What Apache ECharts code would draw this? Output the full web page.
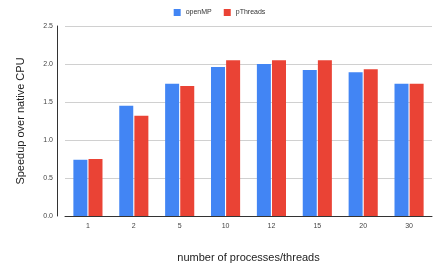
<!DOCTYPE html>
<html>
<head>
<meta charset="utf-8">
<script src="https://cdn.jsdelivr.net/npm/echarts@6/dist/echarts.min.js"></script>
<style>
  html, body { margin: 0; padding: 0; background: #fff; }
  #chart { width: 439px; height: 263px; }
</style>
</head>
<body>
<div id="chart"></div>
<script>
const threads = ['1', '2', '5', '10', '12', '15', '20', '30']
const openMP = [0.74, 1.45, 1.74, 1.96, 2.00, 1.92, 1.89, 1.74]
const pThreads = [0.75, 1.32, 1.71, 2.05, 2.05, 2.05, 1.93, 1.74]

const chart = echarts.init(document.getElementById('chart'))

chart.setOption({
  animation: false,
  textStyle: { fontFamily: 'Arial, "Liberation Sans", sans-serif' },
  legend: {
    top: 4,
    left: 'center',
    itemWidth: 7,
    itemHeight: 7,
    itemGap: 12,
    icon: 'rect',
    textStyle: { fontSize: 7, color: '#333' },
    data: ['openMP', 'pThreads']
  },
  grid: { left: 65, right: 7, top: 26, bottom: 47, containLabel: false, outerBoundsMode: 'none' },
  xAxis: {
    type: 'category',
    data: threads,
    name: 'number of processes/threads',
    nameLocation: 'middle',
    nameGap: 36,
    nameTextStyle: { fontSize: 11, color: '#222' },
    axisLine: { lineStyle: { color: '#333', width: 1 } },
    axisTick: { show: false },
    axisLabel: { fontSize: 7, color: '#444', margin: 7 }
  },
  yAxis: {
    type: 'value',
    min: 0,
    max: 2.5,
    interval: 0.5,
    offset: 8,
    name: 'Speedup over native CPU',
    nameLocation: 'middle',
    nameGap: 31,
    nameTextStyle: { fontSize: 11, color: '#222' },
    axisLine: { show: true, lineStyle: { color: '#333', width: 1 } },
    axisTick: { show: false },
    axisLabel: { fontSize: 7, color: '#444', margin: 4, formatter: v => v.toFixed(1) },
    splitLine: { lineStyle: { color: '#d0d0d0', width: 1 } }
  },
  series: [
    {
      name: 'openMP',
      type: 'bar',
      data: openMP,
      barWidth: 14,
      barGap: '8%',
      itemStyle: { color: '#4285F4' }
    },
    {
      name: 'pThreads',
      type: 'bar',
      data: pThreads,
      barWidth: 14,
      itemStyle: { color: '#EA4335' }
    }
  ]
})
</script>
</body>
</html>
